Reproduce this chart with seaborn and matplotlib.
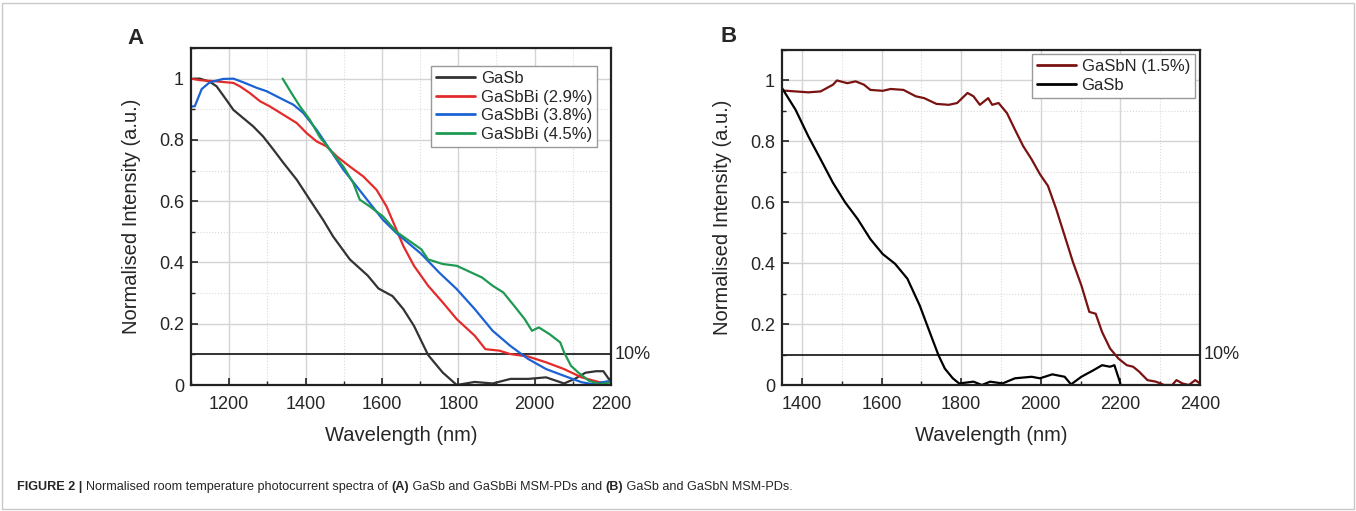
import matplotlib
matplotlib.use("Agg")
import matplotlib.pyplot as plt
import numpy as np
import pandas as pd
import seaborn as sns
from matplotlib.ticker import MultipleLocator, FuncFormatter
from matplotlib.patches import Rectangle

# panel A: GaSb and GaSbBi
gasb_a_wl = [1106, 1123, 1149, 1167, 1193, 1211, 1237, 1263, 1289, 1316, 1342, 1377, 1411, 1446, 1472,
             1516, 1563, 1591, 1628, 1656, 1684, 1721, 1759, 1796, 1843, 1890, 1937, 1984, 2030,
             2077, 2105, 2133, 2161, 2180, 2194, 2200]
gasb_a_i = [1.0, 1.0, 0.99, 0.975, 0.93, 0.898, 0.871, 0.844, 0.811, 0.768, 0.725, 0.67, 0.605, 0.539, 0.485,
            0.41, 0.357, 0.315, 0.29, 0.248, 0.193, 0.098, 0.041, 0.0, 0.01, 0.005, 0.02, 0.02, 0.025,
            0.005, 0.02, 0.04, 0.045, 0.045, 0.02, 0.02]

bi29_wl = [1100, 1123, 1167, 1211, 1228, 1254, 1281, 1307, 1342, 1377, 1403, 1429, 1455, 1482, 1516, 1551,
           1586, 1612, 1638, 1656, 1684, 1721, 1759, 1796, 1843, 1871, 1908, 1936, 1983, 2030, 2077,
           2123, 2170, 2200]
bi29_i = [1.0, 0.995, 0.991, 0.986, 0.975, 0.953, 0.926, 0.909, 0.882, 0.855, 0.822, 0.795, 0.779, 0.746,
          0.713, 0.681, 0.637, 0.583, 0.507, 0.454, 0.389, 0.324, 0.27, 0.215, 0.161, 0.117, 0.112, 0.101,
          0.093, 0.074, 0.052, 0.025, 0.009, 0.009]

bi38_wl = [1100, 1110, 1128, 1149, 1184, 1211, 1237, 1272, 1298, 1342, 1368, 1394, 1429, 1464, 1499, 1534,
           1568, 1603, 1638, 1703, 1750, 1796, 1843, 1890, 1936, 1983, 2030, 2077, 2123, 2151, 2200]
bi38_i = [0.909, 0.91, 0.966, 0.988, 0.999, 1.0, 0.988, 0.97, 0.959, 0.931, 0.915, 0.888, 0.833, 0.768,
          0.703, 0.648, 0.594, 0.539, 0.496, 0.428, 0.367, 0.313, 0.248, 0.177, 0.128, 0.085, 0.052, 0.03,
          0.009, 0.003, 0.014]

bi45_wl = [1340, 1368, 1385, 1411, 1437, 1464, 1499, 1525, 1542, 1568, 1603, 1638, 1703, 1721, 1759, 1796,
           1824, 1862, 1890, 1918, 1946, 1974, 1993, 2011, 2039, 2067, 2077, 2095, 2114, 2142, 2170, 2200]
bi45_i = [1.0, 0.943, 0.91, 0.866, 0.81, 0.768, 0.713, 0.659, 0.605, 0.583, 0.55, 0.5, 0.443, 0.41, 0.395,
          0.389, 0.373, 0.351, 0.324, 0.302, 0.259, 0.215, 0.177, 0.188, 0.166, 0.139, 0.107, 0.063,
          0.041, 0.014, 0.003, 0.009]

# panel B: GaSbN and GaSb
gasbn_wl = [1350, 1384, 1416, 1447, 1478, 1488, 1514, 1535, 1556, 1572, 1603, 1623, 1655, 1686, 1707, 1738,
            1769, 1790, 1816, 1831, 1847, 1868, 1878, 1894, 1915, 1935, 1956, 1977, 1998, 2018, 2039,
            2060, 2081, 2102, 2122, 2138, 2154, 2174, 2195, 2216, 2232, 2247, 2268, 2289, 2310, 2330,
            2341, 2356, 2372, 2388, 2400]
gasbn_i = [0.967, 0.964, 0.961, 0.964, 0.986, 1.0, 0.991, 0.997, 0.986, 0.969, 0.966, 0.972, 0.969, 0.948,
           0.942, 0.923, 0.92, 0.926, 0.959, 0.948, 0.92, 0.942, 0.92, 0.926, 0.893, 0.839, 0.784, 0.741,
           0.692, 0.654, 0.577, 0.49, 0.403, 0.327, 0.24, 0.234, 0.174, 0.12, 0.087, 0.065, 0.06, 0.044,
           0.016, 0.011, 0.0, 0.0, 0.016, 0.005, 0.0, 0.016, 0.005]

gasb_b_wl = [1350, 1384, 1416, 1447, 1478, 1509, 1540, 1572, 1603, 1634, 1665, 1696, 1727, 1743, 1759, 1779,
             1795, 1831, 1852, 1873, 1904, 1935, 1977, 1998, 2029, 2060, 2076, 2102, 2133, 2154, 2174,
             2185, 2200]
gasb_b_i = [0.975, 0.904, 0.817, 0.741, 0.664, 0.599, 0.545, 0.479, 0.43, 0.398, 0.349, 0.261, 0.153, 0.098,
            0.054, 0.022, 0.005, 0.011, 0.0, 0.011, 0.005, 0.022, 0.027, 0.022, 0.035, 0.027, 0.002, 0.027,
            0.049, 0.065, 0.06, 0.065, 0.005]

labels_a = ["GaSb", "GaSbBi (2.9%)", "GaSbBi (3.8%)", "GaSbBi (4.5%)"]
colors_a = ["#333333", "#e42b2b", "#1c62d4", "#1f9a52"]
labels_b = ["GaSbN (1.5%)", "GaSb"]
colors_b = ["#7b1212", "#000000"]

df_a = pd.concat([
    pd.DataFrame({"wl": w, "I": v, "sample": n})
    for w, v, n in zip([gasb_a_wl, bi29_wl, bi38_wl, bi45_wl], [gasb_a_i, bi29_i, bi38_i, bi45_i], labels_a)
])
df_b = pd.concat([
    pd.DataFrame({"wl": w, "I": v, "sample": n})
    for w, v, n in zip([gasbn_wl, gasb_b_wl], [gasbn_i, gasb_b_i], labels_b)
])

sns.set_theme(style="white")
plt.rcParams["font.family"] = ["Liberation Sans", "DejaVu Sans"]

fig = plt.figure(figsize=(13.56, 5.11), dpi=100)
ax_a = fig.add_axes([191 / 1356, 1 - 385 / 511, 420 / 1356, 337 / 511])
ax_b = fig.add_axes([782 / 1356, 1 - 385 / 511, 418 / 1356, 335 / 511])

sns.lineplot(data=df_a, x="wl", y="I", hue="sample", hue_order=labels_a, palette=colors_a,
             estimator=None, sort=False, linewidth=1.6, ax=ax_a)
sns.lineplot(data=df_b, x="wl", y="I", hue="sample", hue_order=labels_b, palette=colors_b,
             estimator=None, sort=False, linewidth=1.6, ax=ax_b)

fmt = FuncFormatter(lambda v, p: "0" if abs(v) < 1e-9 else ("1" if abs(v - 1) < 1e-9 else f"{v:.1f}"))

for ax, xlim, leg_anchor in [(ax_a, (1100, 2200), (0.967, 0.947)), (ax_b, (1350, 2400), (0.988, 0.988))]:
    ax.set_xlim(*xlim)
    ax.set_ylim(0, 1.1)
    ax.xaxis.set_major_locator(MultipleLocator(200))
    ax.xaxis.set_minor_locator(MultipleLocator(100))
    ax.set_yticks([0, 0.2, 0.4, 0.6, 0.8, 1.0])
    ax.yaxis.set_minor_locator(MultipleLocator(0.1))
    ax.yaxis.set_major_formatter(fmt)
    ax.grid(which="major", color="#d4d4d4", linewidth=1.0, linestyle="-")
    ax.grid(which="minor", color="#dadada", linewidth=0.8, linestyle=":")
    ax.set_axisbelow(True)
    ax.tick_params(which="major", direction="in", length=5, width=1.2, color="#222222",
                   labelsize=13, bottom=True, left=True, top=False, right=False)
    ax.tick_params(axis="x", which="major", pad=8)
    ax.tick_params(axis="y", which="major", pad=5)
    ax.tick_params(which="minor", direction="in", length=3, width=1.0, color="#222222",
                   bottom=True, left=True, top=False, right=False)
    for s in ax.spines.values():
        s.set_color("#222222")
        s.set_linewidth(1.6)
    ax.axhline(0.1, color="#222222", linewidth=1.3, zorder=1.5)
    ax.text(1.008, 0.1, "10%", transform=ax.get_yaxis_transform(), fontsize=13,
            va="center", ha="left")
    ax.set_xlabel("Wavelength (nm)", fontsize=14.5, labelpad=9)
    ax.set_ylabel("Normalised Intensity (a.u.)", fontsize=14.5, labelpad=13)
    leg = ax.legend(loc="upper right", bbox_to_anchor=leg_anchor, borderaxespad=0, fontsize=12,
                    frameon=True, fancybox=False, edgecolor="#999999", framealpha=1,
                    handlelength=2.3, handletextpad=0.35, labelspacing=0.22, borderpad=0.3)
    leg.get_frame().set_linewidth(1.0)
    for line in leg.get_lines():
        line.set_linewidth(2.0)

fig.text(135 / 1356, 1 - 38 / 511, "A", fontsize=16, fontweight="bold", ha="center", va="center")
fig.text(729 / 1356, 1 - 36 / 511, "B", fontsize=16, fontweight="bold", ha="center", va="center")

# caption with mixed weights
pieces = [("FIGURE 2 | ", "bold"), ("Normalised room temperature photocurrent spectra of ", "normal"),
          ("(A)", "bold"), (" GaSb and GaSbBi MSM-PDs and ", "normal"), ("(B)", "bold"),
          (" GaSb and GaSbN MSM-PDs.", "normal")]
fig.canvas.draw()
renderer = fig.canvas.get_renderer()
xpos = 17
for txt, w in pieces:
    t = fig.text(xpos / 1356, 1 - 487 / 511, txt, fontsize=9.1, fontweight=w, ha="left", va="center")
    bb = t.get_window_extent(renderer=renderer)
    xpos += bb.width

fig.patches.append(Rectangle((2 / 1356, 2 / 511), 1352 / 1356, 506 / 511, transform=fig.transFigure,
                             fill=False, edgecolor="#c8c8c8", linewidth=1.0))

fig.savefig("out.png", dpi=100)
